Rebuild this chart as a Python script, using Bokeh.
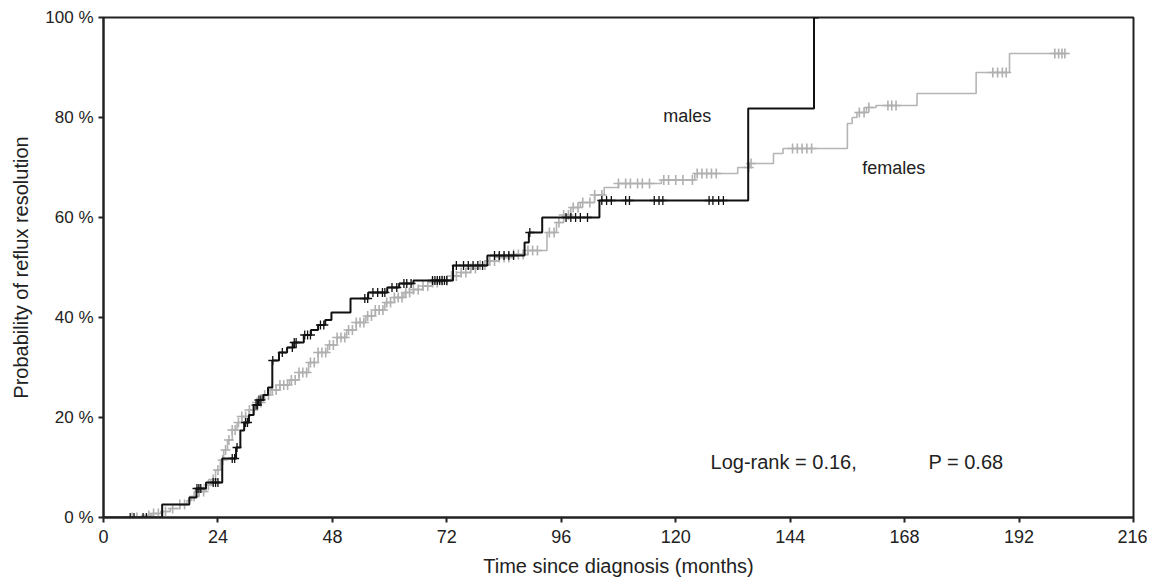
import numpy as np
from bokeh.plotting import figure
from bokeh.models import FixedTicker, Label, Range1d
from bokeh.embed import file_html
from bokeh.resources import INLINE

# ---- data (months, cumulative % resolved) ----
males_t = [0, 12.3, 18.0, 19.5, 21.5, 24.9, 27.8, 28.7, 29.5, 30.5, 31.5, 32.5, 33.5, 34.5,
           35.4, 36.8, 38.5, 40.0, 42.0, 43.5, 45.0, 46.5, 47.8, 51.8, 53.5, 55.5, 59.5, 62.0,
           65.0, 73.3, 80.5, 88.3, 89.2, 92.0, 104.0, 135.2, 149.0]
males_p = [0, 2.6, 4.0, 5.8, 7.0, 11.8, 14.0, 17.4, 19.0, 20.5, 22.5, 23.5, 24.5, 26.0,
           31.4, 33.0, 34.0, 35.0, 36.5, 37.5, 38.5, 39.5, 41.0, 43.8, 43.8, 45.0, 46.0, 46.8,
           47.4, 50.4, 52.4, 55.0, 57.0, 60.0, 63.4, 81.8, 100.0]
males_end = 150.0
males_cens = [5.6, 6.4, 8.3, 9.0, 19.6, 20.0, 20.4, 23.0, 23.5, 24.0, 27.0, 27.5, 28.0,
              29.8, 30.2, 32.0, 32.3, 32.6, 33.0, 35.5, 37.5, 39.6, 40.0, 40.4, 42.2, 42.8,
              43.4, 45.5, 46.2, 54.8, 55.4, 56.5, 57.5, 58.5, 59.0, 60.5, 61.5, 63.0, 63.6,
              64.5, 69.0, 69.5, 70.0, 70.5, 71.0, 71.5, 72.0, 74.0, 75.5, 76.5, 77.5, 78.5,
              79.5, 82.0, 83.0, 84.0, 85.0, 86.0, 89.4, 97.0, 98.0, 99.0, 100.0, 101.5,
              104.5, 105.5, 106.5, 109.5, 110.3, 115.5, 116.5, 117.3, 127.0, 127.8, 129.0, 130.0]

females_t = [0, 8, 10, 12, 14, 16, 17.5, 18.5, 20, 21.5, 22.5, 23.5, 24.5, 25.2, 26, 27, 28, 29,
             30.5, 32, 33.5, 35, 37, 39, 41, 43, 45, 47, 49, 51, 53, 55, 57, 59, 61, 63, 65, 67,
             69, 71, 73, 75, 77, 79, 81, 83, 86, 89, 93, 95, 96.5, 98, 100, 103, 105, 108, 117,
             124, 133, 135.5, 140.5, 142.5, 156, 157, 158, 160, 162, 170.6, 183, 190]
females_p = [0, 0.4, 0.8, 1.2, 1.8, 2.6, 3.4, 4.2, 5.2, 6.5, 7.6, 9.5, 11.5, 13.5, 15.5, 17.5,
             19, 20.2, 21.5, 23, 24.5, 25.5, 26.5, 27.5, 29, 31, 33, 34.5, 36, 37.5, 39, 40.3,
             41.5, 43, 44, 45, 45.6, 46.3, 47, 47.4, 48.3, 49, 49.8, 50.5, 51.3, 52, 52.6, 53.4,
             57, 59, 60.5, 62, 63, 64.5, 66, 66.8, 67.5, 68.8, 70, 70.8, 72.8, 73.8, 78.8, 80,
             81, 82, 82.4, 84.8, 89, 92.8]
females_end = 202.0
females_cens = [6.0, 7.0, 9.5, 10.5, 11.5, 13.0, 14.5, 16.0, 17.0, 19.0, 20.0, 21.0, 22.0,
                23.0, 24.0, 25.0, 25.6, 26.3, 27.0, 27.6, 28.3, 29.0, 29.8, 30.6, 31.4, 32.2,
                33.0, 33.8, 34.6, 35.4, 36.2, 37.0, 37.8, 38.6, 39.4, 40.2, 41.0, 41.8, 42.6,
                43.4, 44.2, 45.0, 45.8, 46.6, 47.4, 48.2, 49.0, 49.8, 50.6, 51.4, 52.2, 53.0,
                53.8, 54.6, 55.4, 56.2, 57.0, 57.8, 58.6, 59.4, 60.2, 61.0, 61.8, 62.6, 63.4,
                64.2, 65.0, 66.0, 67.0, 68.0, 69.0, 70.0, 71.0, 72.0, 73.0, 74.0, 75.0, 76.0,
                77.0, 78.0, 79.0, 80.0, 81.0, 82.0, 83.0, 84.0, 85.0, 86.0, 87.0, 88.0, 89.0,
                90.0, 91.0, 93.5, 94.5, 95.5, 96.5, 97.5, 98.5, 99.5, 100.5, 102.0, 103.0,
                104.5, 108.0, 109.5, 110.5, 112.0, 113.0, 114.5, 117.5, 118.5, 120.0, 121.5,
                123.5, 124.5, 125.5, 126.5, 127.5, 128.5, 135.3, 135.8, 144.5, 145.5, 146.5,
                147.5, 148.5, 158.5, 159.5, 160.5, 164.5, 165.3, 166.2, 186.5, 187.5, 188.5,
                189.3, 199.5, 200.3, 201.0, 201.6]

x_ticks = [0, 24, 48, 72, 96, 120, 144, 168, 192, 216]
y_ticks = [0, 20, 40, 60, 80, 100]
y_tick_labels = ["0 %", "20 %", "40 %", "60 %", "80 %", "100 %"]

FONT = "Liberation Sans"


def lookup(t, p, c):
    t = np.asarray(t)
    p = np.asarray(p)
    idx = np.searchsorted(t, np.asarray(c), side="right") - 1
    return p[idx]


p = figure(frame_width=1030, frame_height=500, output_backend="svg", toolbar_location=None,
           x_range=Range1d(0, 216), y_range=Range1d(0, 100))
p.min_border_left = 103
p.min_border_top = 17
p.min_border_bottom = 66
p.min_border_right = 14
p.background_fill_color = "white"
p.border_fill_color = "white"
p.grid.visible = False
p.outline_line_color = "#222222"
p.outline_line_width = 2

# females
fx = list(females_t) + [females_end]
fy = list(females_p) + [females_p[-1]]
p.step(fx, fy, mode="after", line_color="#b5b5b5", line_width=1.6)
fc_y = lookup(females_t, females_p, females_cens)
p.scatter(females_cens, fc_y, marker="cross", size=10, line_color="#b0b0b0", line_width=1.6)

# males
mx = list(males_t) + [males_end]
my = list(males_p) + [males_p[-1]]
p.step(mx, my, mode="after", line_color="#111111", line_width=2)
mc_y = lookup(males_t, males_p, males_cens)
p.scatter(males_cens, mc_y, marker="cross", size=9, line_color="#111111", line_width=1.3)

# axes
p.xaxis.ticker = FixedTicker(ticks=x_ticks)
p.yaxis.ticker = FixedTicker(ticks=y_ticks)
p.yaxis.major_label_overrides = {t: l for t, l in zip(y_ticks, y_tick_labels)}
for ax in (p.xaxis, p.yaxis):
    ax.axis_line_color = "#222222"
    ax.axis_line_width = 2
    ax.major_tick_line_color = "#222222"
    ax.major_tick_line_width = 2
    ax.major_tick_in = 0
    ax.major_tick_out = 5
    ax.minor_tick_line_color = None
    ax.major_label_text_font = FONT
    ax.major_label_text_font_size = "17px"
    ax.major_label_text_color = "#222222"
    ax.axis_label_text_font = FONT
    ax.axis_label_text_font_size = "20px"
    ax.axis_label_text_font_style = "normal"
    ax.axis_label_text_color = "#222222"
p.xaxis.major_label_text_font_size = "18px"
p.xaxis.major_label_standoff = 7
p.yaxis.major_label_standoff = 5
p.xaxis.axis_label = "Time since diagnosis (months)"
p.yaxis.axis_label = "Probability of reflux resolution"
p.xaxis.axis_label_standoff = 9
p.yaxis.axis_label_standoff = 10

for txt, x, y, fs in [("males", 117.4, 80.3, "18px"), ("females", 159.1, 70.0, "18px"),
                      ("Log-rank = 0.16,", 127.3, 11.2, "20px"), ("P = 0.68", 173.0, 11.2, "20px")]:
    p.add_layout(Label(x=x, y=y, text=txt, text_font=FONT, text_font_size=fs,
                       text_color="#222222", text_baseline="middle", text_align="left"))

open("out.html", "w").write(file_html(p, INLINE))
